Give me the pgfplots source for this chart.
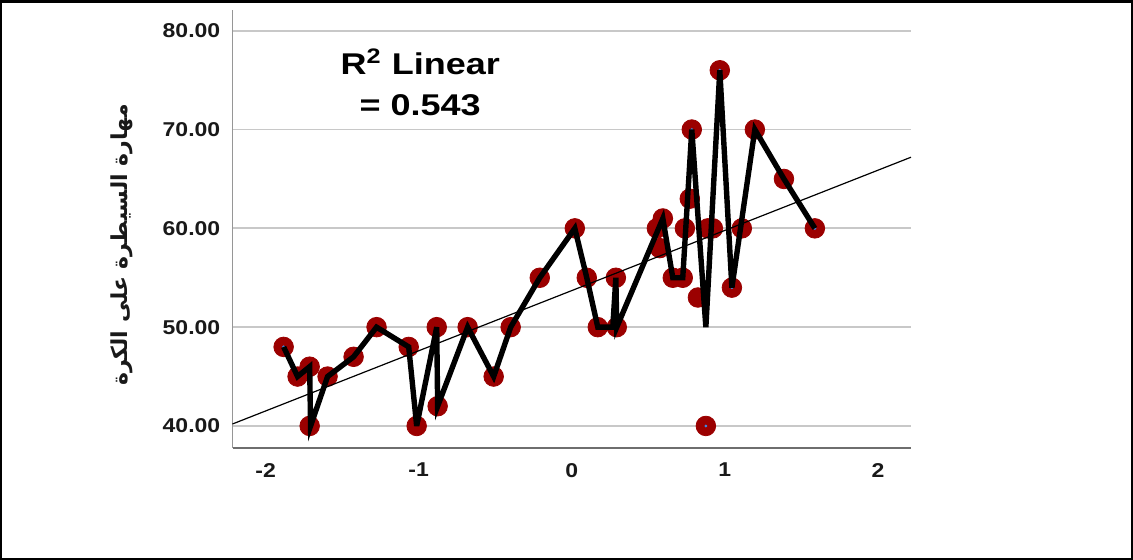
\documentclass[border=0pt]{standalone}
\usepackage{pgfplots}
\pgfplotsset{compat=1.18}
\usepackage{graphicx}
\usepackage{fontspec}
\setmainfont{Liberation Sans}
\newfontfamily\arabicfont[Script=Arabic]{DejaVu Sans}
\TeXXeTstate=1
\definecolor{ptred}{RGB}{155,0,0}
\definecolor{gridgray}{RGB}{200,200,200}
\definecolor{axgray}{RGB}{150,150,150}
\definecolor{axdark}{RGB}{110,110,110}
\definecolor{txt}{RGB}{25,25,25}
\definecolor{cdot}{RGB}{60,140,230}
\newcommand{\sx}[1]{\scalebox{1.15}[1]{#1}}
\begin{document}
\begin{tikzpicture}
\path[use as bounding box] (0,0) rectangle (566.5pt,280pt);
\draw[line width=1pt] (0.5pt,0.5pt) rectangle (566pt,279.5pt);
\draw[line width=1.5pt] (0,279.25pt) -- (566.5pt,279.25pt);
\node[rotate=90, font=\arabicfont\bfseries\fontsize{11}{13}\selectfont, text=txt] at (61pt,157.5pt) {\beginR مهارة السيطرة على الكرة\endR};
\begin{axis}[
  at={(116.25pt,56pt)}, anchor=south west,
  scale only axis, width=339.25pt, height=219pt,
  xmin=-2.216, xmax=2.216, ymin=37.77, ymax=82.1,
  axis x line*=bottom, axis y line*=left,
  x axis line style={color=axdark, line width=1pt},
  y axis line style={color=axgray, line width=0.8pt},
  xtick={-2,-1,0,1,2}, xticklabels={\sx{-2},\sx{-1},\sx{0},\sx{1},\sx{2}},
  ytick={40,50,60,70,80}, yticklabels={\sx{40.00},\sx{50.00},\sx{60.00},\sx{70.00},\sx{80.00}},
  major tick length=0pt,
  ymajorgrids, grid style={color=gridgray, line width=0.9pt},
  ticklabel style={font=\bfseries\fontsize{10}{12}\selectfont, text=txt},
  yticklabel style={xshift=-2.6pt},
  xticklabel style={yshift=-4pt},
  clip=false, clip marker paths=true,
]
\addplot[only marks, mark=*, mark size=4.9pt, color=ptred] coordinates {
(-1.882,48) (-1.791,45) (-1.712,46) (-1.712,40) (-1.595,45) (-1.425,47)
(-1.275,50) (-1.065,48) (-1.013,40) (-0.882,50) (-0.876,42) (-0.680,50)
(-0.510,45) (-0.399,50) (-0.209,55) (0.020,60) (0.098,55) (0.170,50)
(0.294,50) (0.288,55) (0.556,60) (0.595,61) (0.575,58) (0.660,55)
(0.725,55) (0.771,63) (0.784,70) (0.739,60) (0.824,53) (0.889,60)
(0.922,60) (0.876,40) (0.967,76) (1.046,54) (1.111,60) (1.196,70)
(1.386,65) (1.588,60)
};
\addplot[only marks, mark=*, mark size=0.5pt, color=cdot] coordinates {
(-1.882,48) (0.876,40) (1.588,60) (0.967,76) (0.784,70) (1.046,54)
};
\addplot[color=black, line width=0.6pt] coordinates {(-2.216,40.2) (2.216,67.2)};
\addplot[color=black, line width=2.7pt, line join=miter, miter limit=6] coordinates {
(-1.882,48) (-1.791,45) (-1.712,46) (-1.706,40) (-1.595,45) (-1.425,47)
(-1.275,50) (-1.065,48) (-1.013,40) (-0.882,50) (-0.876,42) (-0.680,50)
(-0.510,45) (-0.399,50) (-0.209,55) (0.020,60) (0.098,55) (0.170,50)
(0.268,50) (0.288,55) (0.294,50) (0.595,61) (0.660,55) (0.725,55)
(0.784,70) (0.876,50) (0.967,76) (1.046,54) (1.196,70) (1.386,65) (1.588,60)
};
\node[align=center, font=\bfseries\fontsize{15}{20.5}\selectfont, text=black] at (axis cs:-0.99,74.8) {\scalebox{1.2}[1]{R\textsuperscript{2} Linear}\\\scalebox{1.2}[1]{= 0.543}};
\end{axis}
\end{tikzpicture}
\end{document}
